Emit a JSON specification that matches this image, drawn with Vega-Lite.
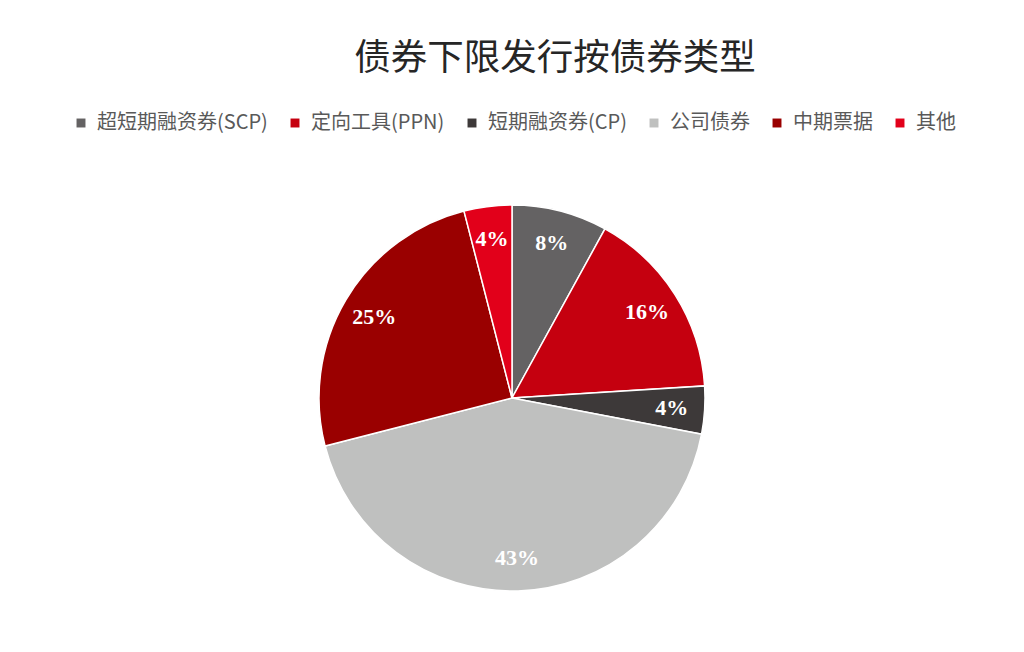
{
  "$schema": "https://vega.github.io/schema/vega-lite/v6.json",
  "width": 1024,
  "height": 508,
  "autosize": "none",
  "padding": {"top": 144, "left": 0, "right": 0, "bottom": 0},
  "background": "white",
  "title": {
    "text": "债券下限发行按债券类型",
    "font": "Noto Sans CJK SC",
    "fontSize": 36.5,
    "fontWeight": "normal",
    "color": "#262626",
    "anchor": "middle",
    "frame": "group",
    "dx": 43,
    "offset": 36
  },
  "data": {
    "values": [
      {"type": "超短期融资券(SCP)", "value": 8, "order": 1, "label": "8%"},
      {"type": "定向工具(PPN)", "value": 16, "order": 2, "label": "16%"},
      {"type": "短期融资券(CP)", "value": 4, "order": 3, "label": "4%"},
      {"type": "公司债券", "value": 43, "order": 4, "label": "43%"},
      {"type": "中期票据", "value": 25, "order": 5, "label": "25%"},
      {"type": "其他", "value": 4, "order": 6, "label": "4%"}
    ]
  },
  "encoding": {
    "theta": {"field": "value", "type": "quantitative", "stack": true},
    "order": {"field": "order", "type": "quantitative"},
    "color": {
      "field": "type",
      "type": "nominal",
      "sort": ["超短期融资券(SCP)", "定向工具(PPN)", "短期融资券(CP)", "公司债券", "中期票据", "其他"],
      "scale": {
        "domain": ["超短期融资券(SCP)", "定向工具(PPN)", "短期融资券(CP)", "公司债券", "中期票据", "其他"],
        "range": ["#646263", "#C5000F", "#3D3939", "#BFC0BF", "#9A0000", "#E2001A"]
      },
      "legend": {
        "orient": "none",
        "legendX": 71,
        "legendY": -31,
        "direction": "horizontal",
        "title": null,
        "symbolType": "square",
        "symbolSize": 80,
        "symbolStrokeWidth": 0,
        "labelFont": "Noto Sans CJK SC",
        "labelFontSize": 20,
        "labelColor": "#595959",
        "labelOffset": 6,
        "columnPadding": 17,
        "padding": 0,
        "labelLimit": 400
      }
    }
  },
  "layer": [
    {
      "mark": {"type": "arc", "outerRadius": 193, "stroke": "white", "strokeWidth": 1.5}
    },
    {
      "mark": {
        "type": "text",
        "radius": 160,
        "font": "Liberation Serif",
        "fontWeight": "bold",
        "fontSize": 22,
        "fill": "white"
      },
      "encoding": {
        "text": {"field": "label", "type": "nominal"},
        "color": {"value": "white"}
      }
    }
  ],
  "config": {"view": {"stroke": null}}
}
